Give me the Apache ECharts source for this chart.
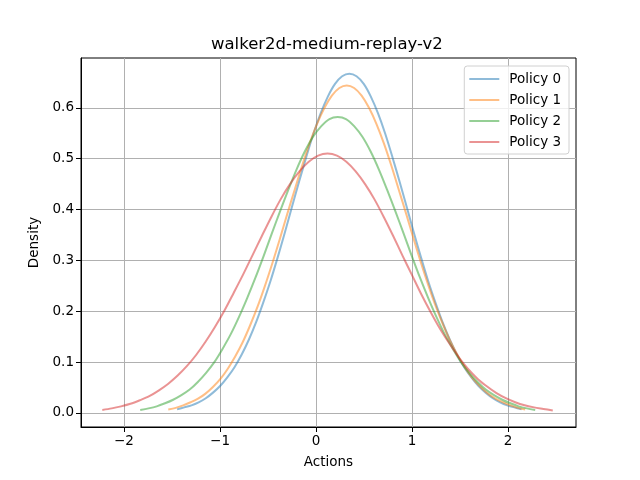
<!DOCTYPE html>
<html>
<head>
<meta charset="utf-8">
<title>walker2d-medium-replay-v2</title>
<script src="https://cdn.jsdelivr.net/npm/echarts@6/dist/echarts.min.js"></script>
<style>
  html, body { margin: 0; padding: 0; background: #fff; }
  #main { width: 640px; height: 480px; }
</style>
</head>
<body>
<div id="main"></div>
<script>
// values (KDE curves of actions)
var names = ['Policy 0', 'Policy 1', 'Policy 2', 'Policy 3'];
var colors = ['rgba(31,119,180,0.5)', 'rgba(255,127,14,0.5)', 'rgba(44,160,44,0.5)', 'rgba(214,39,40,0.5)'];

var x0 = [-1.447, -1.372, -1.298, -1.223, -1.148, -1.073, -0.999, -0.924, -0.849, -0.774, -0.700, -0.625, -0.550, -0.475, -0.401, -0.326, -0.251, -0.176, -0.102, -0.027, 0.048, 0.123, 0.198, 0.272, 0.347,
          0.422, 0.497, 0.571, 0.646, 0.721, 0.796, 0.870, 0.945, 1.020, 1.095, 1.169, 1.244, 1.319, 1.394, 1.468, 1.543, 1.618, 1.693, 1.767, 1.842, 1.917, 1.992, 2.066, 2.141];
var y0 = [0.007, 0.011, 0.015, 0.021, 0.029, 0.040, 0.053, 0.070, 0.090, 0.115, 0.144, 0.178, 0.217, 0.259, 0.305, 0.354, 0.405, 0.455, 0.503, 0.549, 0.589, 0.622, 0.647, 0.662, 0.667,
          0.662, 0.647, 0.622, 0.589, 0.549, 0.503, 0.455, 0.405, 0.354, 0.305, 0.259, 0.217, 0.178, 0.144, 0.115, 0.090, 0.070, 0.053, 0.040, 0.029, 0.021, 0.015, 0.011, 0.007];

var x1 = [-1.539, -1.461, -1.384, -1.306, -1.229, -1.151, -1.074, -0.996, -0.919, -0.842, -0.764, -0.687, -0.609, -0.532, -0.454, -0.377, -0.300, -0.222, -0.145, -0.067, 0.010, 0.088, 0.165, 0.243, 0.320,
          0.397, 0.475, 0.552, 0.630, 0.707, 0.785, 0.862, 0.940, 1.017, 1.094, 1.172, 1.249, 1.327, 1.404, 1.482, 1.559, 1.636, 1.714, 1.791, 1.869, 1.946, 2.024, 2.101, 2.179];
var y1 = [0.007, 0.010, 0.015, 0.021, 0.028, 0.038, 0.051, 0.067, 0.087, 0.111, 0.139, 0.172, 0.209, 0.250, 0.295, 0.342, 0.391, 0.439, 0.486, 0.530, 0.568, 0.600, 0.624, 0.639, 0.644,
          0.639, 0.624, 0.600, 0.568, 0.530, 0.486, 0.439, 0.391, 0.342, 0.295, 0.250, 0.209, 0.172, 0.139, 0.111, 0.087, 0.067, 0.051, 0.038, 0.028, 0.021, 0.015, 0.010, 0.007];

var x2 = [-1.831, -1.745, -1.659, -1.573, -1.488, -1.402, -1.316, -1.231, -1.145, -1.059, -0.974, -0.888, -0.802, -0.717, -0.631, -0.545, -0.460, -0.374, -0.288, -0.202, -0.117, -0.031, 0.055, 0.140, 0.226,
          0.312, 0.397, 0.483, 0.569, 0.654, 0.740, 0.826, 0.912, 0.997, 1.083, 1.169, 1.254, 1.340, 1.426, 1.511, 1.597, 1.683, 1.768, 1.854, 1.940, 2.025, 2.111, 2.197, 2.283];
var y2 = [0.006, 0.009, 0.013, 0.019, 0.026, 0.035, 0.046, 0.061, 0.079, 0.100, 0.126, 0.155, 0.189, 0.226, 0.266, 0.309, 0.353, 0.397, 0.439, 0.479, 0.514, 0.543, 0.564, 0.578, 0.582,
          0.578, 0.564, 0.543, 0.514, 0.479, 0.439, 0.397, 0.353, 0.309, 0.266, 0.226, 0.189, 0.155, 0.126, 0.100, 0.079, 0.061, 0.046, 0.035, 0.026, 0.019, 0.013, 0.009, 0.006];

var x3 = [-2.226, -2.128, -2.031, -1.933, -1.835, -1.737, -1.640, -1.542, -1.444, -1.346, -1.249, -1.151, -1.053, -0.955, -0.858, -0.760, -0.662, -0.564, -0.467, -0.369, -0.271, -0.173, -0.076, 0.022, 0.120,
          0.218, 0.316, 0.413, 0.511, 0.609, 0.707, 0.804, 0.902, 1.000, 1.098, 1.195, 1.293, 1.391, 1.489, 1.586, 1.684, 1.782, 1.880, 1.977, 2.075, 2.173, 2.271, 2.368, 2.466];
var y3 = [0.006, 0.009, 0.013, 0.018, 0.025, 0.033, 0.044, 0.057, 0.073, 0.092, 0.114, 0.140, 0.169, 0.201, 0.236, 0.272, 0.310, 0.348, 0.385, 0.420, 0.450, 0.475, 0.494, 0.506, 0.510,
          0.506, 0.494, 0.475, 0.450, 0.420, 0.385, 0.348, 0.309, 0.271, 0.233, 0.198, 0.165, 0.136, 0.109, 0.086, 0.067, 0.052, 0.039, 0.029, 0.021, 0.015, 0.011, 0.008, 0.005];

var xTicks = [-2, -1, 0, 1, 2];
var yTicks = [0.0, 0.1, 0.2, 0.3, 0.4, 0.5, 0.6];

var xs = [x0, x1, x2, x3];
var ys = [y0, y1, y2, y3];

function pairs(a, b) {
    return a.map(function (v, i) { return [v, b[i]]; });
}
function minus(s) { return String(s).replace('-', '\u2212'); }

var font = 'DejaVu Sans';
var myChart = echarts.init(document.getElementById('main'));

var series = names.map(function (n, i) {
    return {
        name: n,
        type: 'line',
        data: pairs(xs[i], ys[i]),
        smooth: 0.3,
        symbol: 'none',
        lineStyle: { color: colors[i], width: 2, join: 'round' },
        itemStyle: { color: colors[i] },
        z: 3 + i
    };
});

var option = {
    backgroundColor: '#fff',
    animation: false,
    textStyle: { fontFamily: font },
    title: {
        text: 'walker2d-medium-replay-v2',
        left: 211,
        top: 36,
        padding: 0,
        textStyle: { fontFamily: font, fontSize: 16.5, fontWeight: 'normal', color: '#000' }
    },
    legend: {
        data: names,
        orient: 'vertical',
        right: 71,
        top: 66,
        itemWidth: 30,
        itemHeight: 14,
        itemGap: 7,
        padding: [6, 8, 5, 4],
        borderColor: '#d0d0d0',
        borderWidth: 1,
        borderRadius: 3,
        backgroundColor: 'rgba(255,255,255,0.8)',
        itemStyle: { opacity: 0, borderWidth: 0 },
        textStyle: { fontFamily: font, fontSize: 13.5, color: '#000', padding: [0, 0, 0, 5] }
    },
    grid: {
        left: 81, right: 64, top: 58, bottom: 53,
        show: true, borderColor: '#000', borderWidth: 1
    },
    xAxis: {
        type: 'value',
        min: -2.448,
        max: 2.708,
        splitNumber: 5,
        name: 'Actions',
        nameLocation: 'middle',
        nameGap: 28,
        nameTextStyle: { fontFamily: font, fontSize: 13.5, color: '#000' },
        axisLine: { show: true, onZero: false, lineStyle: { color: '#000', width: 1 } },
        axisTick: { show: true, length: 5, lineStyle: { color: '#000' }, customValues: xTicks },
        axisLabel: {
            customValues: xTicks,
            margin: 7,
            fontFamily: font, fontSize: 13.5, color: '#000',
            formatter: function (v) { return minus(v); }
        },
        splitLine: { show: true, lineStyle: { color: '#b0b0b0', width: 1 } }
    },
    yAxis: {
        type: 'value',
        min: -0.0276,
        max: 0.698,
        splitNumber: 7,
        name: 'Density',
        nameLocation: 'middle',
        nameGap: 40,
        nameTextStyle: { fontFamily: font, fontSize: 13.5, color: '#000' },
        axisLine: { show: true, onZero: false, lineStyle: { color: '#000', width: 1 } },
        axisTick: { show: true, length: 5, lineStyle: { color: '#000' }, customValues: yTicks },
        axisLabel: {
            customValues: yTicks,
            margin: 7,
            fontFamily: font, fontSize: 13.5, color: '#000',
            formatter: function (v) { return v.toFixed(1); }
        },
        splitLine: { show: true, lineStyle: { color: '#b0b0b0', width: 1 } }
    },
    series: series
};

myChart.setOption(option);
</script>
</body>
</html>
